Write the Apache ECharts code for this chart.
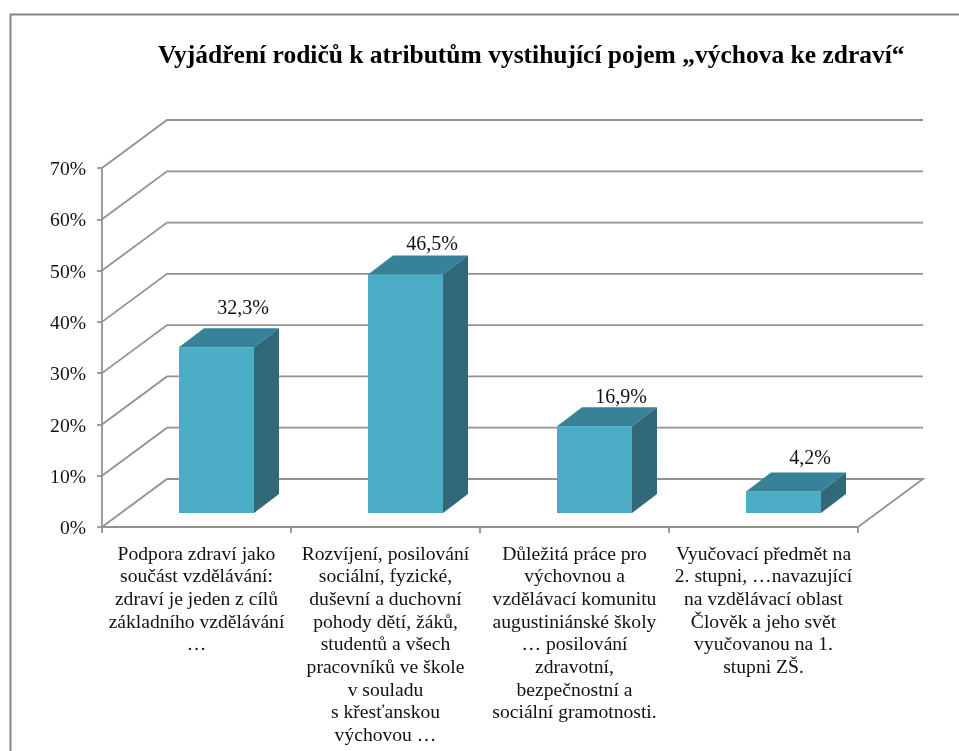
<!DOCTYPE html>
<html><head><meta charset="utf-8">
<style>html,body{margin:0;padding:0;background:#fff}#c{width:959px;height:751px}</style>
<script src="https://cdn.jsdelivr.net/npm/echarts@6/dist/echarts.min.js"></script>
</head><body><div id="c"></div>
<script>
const titleText = 'Vyjádření rodičů k atributům vystihující pojem „výchova ke zdraví“';
const categories = [
  'Podpora zdraví jako\nsoučást vzdělávání:\nzdraví je jeden z cílů\nzákladního vzdělávání\n…',
  'Rozvíjení, posilování\nsociální, fyzické,\nduševní a duchovní\npohody dětí, žáků,\nstudentů a všech\npracovníků ve škole\nv souladu\ns křesťanskou\nvýchovou …',
  'Důležitá práce pro\nvýchovnou a\nvzdělávací komunitu\naugustiniánské školy\n… posilování\nzdravotní,\nbezpečnostní a\nsociální gramotnosti.',
  'Vyučovací předmět na\n2. stupni, …navazující\nna vzdělávací oblast\nČlověk a jeho svět\nvyučovanou na 1.\nstupni ZŠ.'
];
const values = [32.3, 46.5, 16.9, 4.2];
const valueLabels = ['32,3%', '46,5%', '16,9%', '4,2%'];
const axisTicks = [0, 10, 20, 30, 40, 50, 60, 70];
const labelLift = [39, 30, 29, 33];

const FONT = '"Liberation Serif","Times New Roman",serif';
const GREY = '#929292';
const WALL = { dx: 65, dy: -48 };
const BAR = { dx: 25, dy: -19, shiftX: 20, shiftY: -14, ratio: 75 / 189 };
const lineStyle = { stroke: GREY, lineWidth: 1.8, fill: null };

function renderWall(params, api) {
  const v = api.value(0);
  const left = api.coord([0, v]);
  const band = api.size([1, 0])[0];
  const x0 = left[0] - band / 2;
  const x1 = x0 + band * categories.length;
  const y = left[1];
  const pts = [[x0, y], [x0 + WALL.dx, y + WALL.dy], [x1 + WALL.dx, y + WALL.dy]];
  if (v === 0) pts.push([x1, y]);
  return { type: 'polyline', shape: { points: pts }, style: lineStyle, silent: true };
}

function renderBar(params, api) {
  const i = api.value(0);
  const band = api.size([1, 0])[0];
  const w = band * BAR.ratio;
  const top = api.coord([i, api.value(1)]);
  const base = api.coord([i, 0]);
  const h = base[1] - top[1];
  const xl = base[0] + BAR.shiftX - w / 2, xr = xl + w;
  const yb = base[1] + BAR.shiftY, yt = yb - h;
  const poly = (points, fill) => ({ type: 'polygon', shape: { points }, style: { fill, stroke: null }, silent: true });
  return {
    type: 'group',
    children: [
      poly([[xl, yt], [xr, yt], [xr, yb], [xl, yb]], '#4BACC6'),
      poly([[xl, yt], [xl + BAR.dx, yt + BAR.dy], [xr + BAR.dx, yt + BAR.dy], [xr, yt]], '#378299'),
      poly([[xr, yt], [xr + BAR.dx, yt + BAR.dy], [xr + BAR.dx, yb + BAR.dy], [xr, yb]], '#31697A'),
      { type: 'text', silent: true, style: {
          x: xl + w / 2 + 26.5, y: yt - labelLift[i],
          text: valueLabels[i], fill: '#111', font: '20px ' + FONT,
          textAlign: 'center', textVerticalAlign: 'middle' } }
    ]
  };
}

const chart = echarts.init(document.getElementById('c'), null, { renderer: 'canvas' });
chart.setOption({
  animation: false,
  backgroundColor: '#fff',
  title: {
    text: titleText, left: 153, top: 38,
    textStyle: { fontFamily: FONT, fontWeight: 'bold', fontSize: 25.5, color: '#000' }
  },
  graphic: [{
    type: 'polyline', silent: true,
    shape: { points: [[10.5, 760], [10.5, 14.5], [970, 14.5]] },
    style: { stroke: '#868686', lineWidth: 2, fill: null }
  }],
  grid: { left: 102, right: 101, top: 168, bottom: 224 },
  xAxis: {
    type: 'category', data: categories,
    axisLine: { lineStyle: { color: GREY, width: 1.8 } },
    axisTick: { show: true, length: 6, alignWithLabel: false, lineStyle: { color: GREY, width: 1.8 } },
    axisLabel: { interval: 0, margin: 16, lineHeight: 22.7, color: '#111', fontFamily: FONT, fontSize: 19.6, align: 'center' }
  },
  yAxis: {
    type: 'value', min: 0, max: 70, interval: 10,
    axisLine: { show: true, lineStyle: { color: GREY, width: 1.8 } },
    axisTick: { show: true, length: 5, lineStyle: { color: GREY, width: 1.8 } },
    splitLine: { show: false },
    axisLabel: {
      formatter: '{t|{value}%}', margin: 16,
      rich: { t: { padding: [4, 0, 0, 0], color: '#111', fontFamily: FONT, fontSize: 19.6 } }
    }
  },
  series: [
    { type: 'custom', name: 'walls', coordinateSystem: 'cartesian2d', clip: false, z: 1,
      data: axisTicks.map(t => [t]), encode: { y: 0 }, renderItem: renderWall },
    { type: 'custom', name: 'bars', coordinateSystem: 'cartesian2d', clip: false, z: 3,
      data: values.map((v, i) => [i, v]), encode: { x: 0, y: 1 }, renderItem: renderBar }
  ]
});
</script></body></html>
